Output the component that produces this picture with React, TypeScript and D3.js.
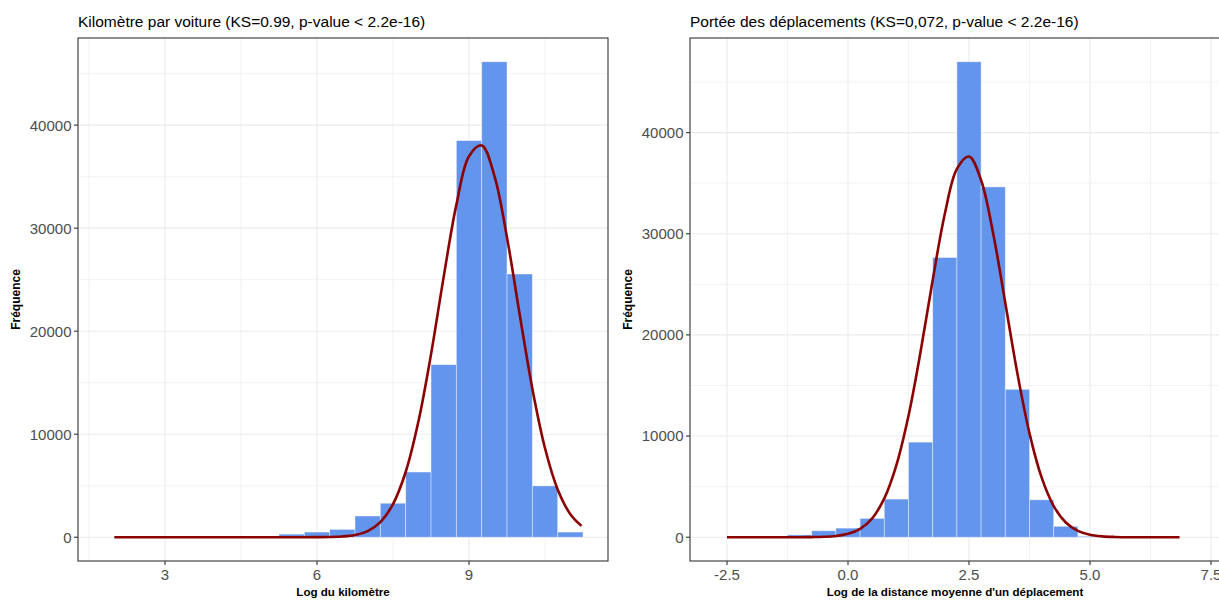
import React from "react";
import * as d3 from "d3";

// ---------- data: left panel (Kilomètre par voiture) ----------
const kmBinCenters = [5.5, 6.0, 6.5, 7.0, 7.5, 8.0, 8.5, 9.0, 9.5, 10.0, 10.5, 11.0];
const kmCounts = [300, 500, 760, 2060, 3300, 6330, 16750, 38500, 46150, 25550, 4980, 500];
const kmCurveX = [2.0, 2.5, 3.0, 3.5, 4.0, 4.5, 5.0, 5.5, 6.0, 6.25, 6.5, 6.75, 7.0, 7.25, 7.5, 7.75, 8.0, 8.25, 8.5, 8.75, 9.0, 9.25, 9.5, 9.75, 10.0, 10.25, 10.5, 10.75, 11.0, 11.22];
const kmCurveY = [0, 0, 0, 0, 0, 0, 0, 0, 6, 22, 73, 220, 600, 1470, 3220, 6330, 11200, 17750, 25270, 32260, 36980, 38030, 35110, 29080, 21620, 14420, 8640, 4640, 2240, 1100];
const kmXTicks = [3, 6, 9];
const kmXTickLabels = ["3", "6", "9"];
const kmXMinor = [1.5, 4.5, 7.5, 10.5];

// ---------- data: right panel (Portée des déplacements) ----------
const ptBinCenters = [-1.0, -0.5, 0.0, 0.5, 1.0, 1.5, 2.0, 2.5, 3.0, 3.5, 4.0, 4.5, 5.0];
const ptCounts = [230, 640, 900, 1860, 3770, 9400, 27650, 47000, 34630, 14620, 3700, 1080, 90];
const ptCurveX = [-2.5, -2.0, -1.5, -1.0, -0.75, -0.5, -0.25, 0.0, 0.25, 0.5, 0.75, 1.0, 1.25, 1.5, 1.75, 2.0, 2.25, 2.5, 2.75, 3.0, 3.25, 3.5, 3.75, 4.0, 4.25, 4.5, 4.75, 5.0, 5.25, 5.5, 6.0, 6.5, 6.85];
const ptCurveY = [0, 0, 0, 3, 13, 40, 121, 334, 830, 1870, 3840, 7130, 12010, 18350, 25420, 31950, 36410, 37640, 35290, 30010, 23150, 16190, 10270, 5910, 3080, 1460, 627, 244, 86, 28, 2, 0, 0];
const ptXTicks = [-2.5, 0, 2.5, 5, 7.5];
const ptXTickLabels = ["-2.5", "0.0", "2.5", "5.0", "7.5"];
const ptXMinor = [-1.25, 1.25, 3.75, 6.25];

const yTicks = [0, 10000, 20000, 30000, 40000];
const yTickLabels = ["0", "10000", "20000", "30000", "40000"];
const yMinor = [5000, 15000, 25000, 35000, 45000];

const binWidth = 0.5;
const FONT = "'Liberation Sans', Arial, Helvetica, sans-serif";

type PanelProps = {
  x0: number; x1: number; y0: number; y1: number;
  xDomain: [number, number];
  centers: number[]; counts: number[];
  curveX: number[]; curveY: number[];
  xTicks: number[]; xTickLabels: string[]; xMinor: number[];
  title: string; xLabel: string; yLabelX: number;
};

function Panel(p: PanelProps) {
  const maxCount = d3.max(p.counts) as number;
  const x = d3.scaleLinear().domain(p.xDomain).range([p.x0, p.x1]);
  const y = d3.scaleLinear().domain([-0.05 * maxCount, 1.05 * maxCount]).range([p.y1, p.y0]);
  const line = d3
    .line<number>()
    .x((_, i) => x(p.curveX[i]))
    .y((d) => y(d))
    .curve(d3.curveCatmullRom.alpha(0.5));
  const grid = "#ebebeb";
  const axisCol = "#333333";
  return (
    <g>
      <rect x={p.x0} y={p.y0} width={p.x1 - p.x0} height={p.y1 - p.y0} fill="#ffffff" />
      {yMinor.map((v) => (
        <line key={"ym" + v} x1={p.x0} x2={p.x1} y1={y(v)} y2={y(v)} stroke={grid} strokeWidth={0.6} />
      ))}
      {p.xMinor.map((v) => (
        <line key={"xm" + v} x1={x(v)} x2={x(v)} y1={p.y0} y2={p.y1} stroke={grid} strokeWidth={0.6} />
      ))}
      {yTicks.map((v) => (
        <line key={"yM" + v} x1={p.x0} x2={p.x1} y1={y(v)} y2={y(v)} stroke={grid} strokeWidth={1.1} />
      ))}
      {p.xTicks.map((v) => (
        <line key={"xM" + v} x1={x(v)} x2={x(v)} y1={p.y0} y2={p.y1} stroke={grid} strokeWidth={1.1} />
      ))}
      {p.centers.map((c, i) => (
        <rect
          key={"b" + i}
          x={x(c - binWidth / 2)}
          y={y(p.counts[i])}
          width={x(c + binWidth / 2) - x(c - binWidth / 2)}
          height={y(0) - y(p.counts[i])}
          fill="#6495ED"
          stroke="#ffffff"
          strokeOpacity={0.5}
          strokeWidth={0.8}
        />
      ))}
      <path d={line(p.curveY) || ""} fill="none" stroke="#8B0000" strokeWidth={2.6} />
      <rect x={p.x0} y={p.y0} width={p.x1 - p.x0} height={p.y1 - p.y0} fill="none" stroke={axisCol} strokeWidth={1.1} />
      {yTicks.map((v, i) => (
        <g key={"yt" + v}>
          <line x1={p.x0 - 4} x2={p.x0} y1={y(v)} y2={y(v)} stroke={axisCol} strokeWidth={1.1} />
          <text x={p.x0 - 6.5} y={y(v)} dy="0.36em" textAnchor="end" fontFamily={FONT} fontSize={15} fill="#4d4d4d">
            {yTickLabels[i]}
          </text>
        </g>
      ))}
      {p.xTicks.map((v, i) => (
        <g key={"xt" + v}>
          <line x1={x(v)} x2={x(v)} y1={p.y1} y2={p.y1 + 4} stroke={axisCol} strokeWidth={1.1} />
          <text x={x(v)} y={p.y1 + 19} textAnchor="middle" fontFamily={FONT} fontSize={15} fill="#4d4d4d">
            {p.xTickLabels[i]}
          </text>
        </g>
      ))}
      <text x={p.x0} y={27} fontFamily={FONT} fontSize={15.5} fill="#000000">
        {p.title}
      </text>
      <text x={(p.x0 + p.x1) / 2} y={596} textAnchor="middle" fontFamily={FONT} fontSize={11.6} fontWeight="bold" fill="#000000">
        {p.xLabel}
      </text>
      <text
        transform={`translate(${p.yLabelX},${(p.y0 + p.y1) / 2}) rotate(-90)`}
        textAnchor="middle"
        fontFamily={FONT}
        fontSize={12}
        fontWeight="bold"
        fill="#000000"
      >
        Fréquence
      </text>
    </g>
  );
}

export default function App() {
  return (
    <svg
      width={1219}
      height={600}
      style={{ position: "absolute", left: 0, top: 0, background: "#ffffff" }}
    >
      <rect x={0} y={0} width={1219} height={600} fill="#ffffff" />
      <Panel
        x0={78}
        x1={608}
        y0={38}
        y1={561}
        xDomain={[1.283, 11.743]}
        centers={kmBinCenters}
        counts={kmCounts}
        curveX={kmCurveX}
        curveY={kmCurveY}
        xTicks={kmXTicks}
        xTickLabels={kmXTickLabels}
        xMinor={kmXMinor}
        title="Kilomètre par voiture (KS=0.99, p-value < 2.2e-16)"
        xLabel="Log du kilomètre"
        yLabelX={20}
      />
      <Panel
        x0={690}
        x1={1220}
        y0={38}
        y1={561}
        xDomain={[-3.2645, 7.686]}
        centers={ptBinCenters}
        counts={ptCounts}
        curveX={ptCurveX}
        curveY={ptCurveY}
        xTicks={ptXTicks}
        xTickLabels={ptXTickLabels}
        xMinor={ptXMinor}
        title="Portée des déplacements (KS=0,072, p-value < 2.2e-16)"
        xLabel="Log de la distance moyenne d'un déplacement"
        yLabelX={632}
      />
    </svg>
  );
}
